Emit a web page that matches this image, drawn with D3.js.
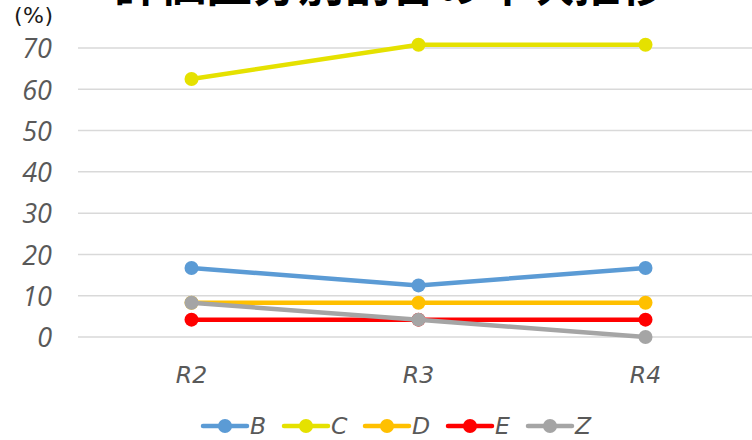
<!DOCTYPE html>
<html>
<head>
<meta charset="utf-8">
<script src="https://cdn.jsdelivr.net/npm/d3@7"></script>
<style>
  html, body { margin: 0; padding: 0; background: #fff; }
  svg { display: block; }
</style>
</head>
<body>
<svg id="chart" width="752" height="440"></svg>
<script>
// Chart data
const categories = ["R2", "R3", "R4"];
const seriesNames = ["B", "C", "D", "E", "Z"];
const valuesB = [16.7, 12.5, 16.7];
const valuesC = [62.5, 70.8, 70.8];
const valuesD = [8.3, 8.3, 8.3];
const valuesE = [4.2, 4.2, 4.2];
const valuesZ = [8.3, 4.2, 0];
const yTicks = [0, 10, 20, 30, 40, 50, 60, 70];
const titleText = "評価区分別割合の年次推移";
const unitText = "(%)";

const colors = { B: "#5B9BD5", C: "#E5E100", D: "#FFC000", E: "#FF0000", Z: "#A5A5A5" };
const series = [
  { name: "B", values: valuesB },
  { name: "C", values: valuesC },
  { name: "D", values: valuesD },
  { name: "E", values: valuesE },
  { name: "Z", values: valuesZ }
];

const svg = d3.select("#chart");
const plot = { left: 78, right: 759, top: 48, bottom: 337 };

const x = d3.scaleBand().domain(categories).range([plot.left, plot.right]);
const y = d3.scaleLinear().domain([0, 70]).range([plot.bottom, plot.top]);

const numFont = "'Open Sans', sans-serif";
const labelFont = "'DejaVu Sans', Verdana, sans-serif";
const gray = "#595959";

// Title (large heading running off the top edge)
svg.append("text")
  .attr("x", 390).attr("y", 1)
  .attr("text-anchor", "middle")
  .attr("font-family", "'Noto Sans CJK JP', sans-serif")
  .attr("font-weight", "bold")
  .attr("font-size", 46)
  .attr("fill", "#000")
  .text(titleText);

// Unit label
svg.append("text")
  .attr("x", 14).attr("y", 23)
  .attr("font-family", labelFont)
  .attr("font-size", 22)
  .attr("letter-spacing", 0.5)
  .attr("fill", "#1a1a1a")
  .text(unitText);

// Horizontal gridlines
svg.append("g")
  .selectAll("line")
  .data(yTicks)
  .join("line")
  .attr("x1", plot.left).attr("x2", 752)
  .attr("y1", d => y(d)).attr("y2", d => y(d))
  .attr("stroke", "#D9D9D9")
  .attr("stroke-width", 1.5);

// Y axis labels
const yAxis = d3.axisLeft(y).tickValues(yTicks).tickSize(0).tickPadding(0);
const gy = svg.append("g").attr("transform", `translate(52,0)`).call(yAxis);
gy.select(".domain").remove();
gy.selectAll("text")
  .attr("font-family", numFont)
  .attr("font-style", "italic")
  .attr("font-size", 27)
  .attr("fill", gray)
  .attr("dy", "0.36em");

// X axis labels
const xAxis = d3.axisBottom(x).tickSize(0).tickPadding(0);
const gx = svg.append("g").attr("transform", `translate(0,${plot.bottom + 29})`).call(xAxis);
gx.select(".domain").remove();
gx.selectAll("text")
  .attr("font-family", labelFont)
  .attr("font-style", "italic")
  .attr("font-size", 23.5)
  .attr("fill", gray)
  .attr("dy", "0.71em");

// Lines and markers
const cx = c => x(c) + x.bandwidth() / 2;
const line = d3.line().x((d, i) => cx(categories[i])).y(d => y(d));

series.forEach(s => {
  const g = svg.append("g");
  g.append("path")
    .attr("d", line(s.values))
    .attr("fill", "none")
    .attr("stroke", colors[s.name])
    .attr("stroke-width", 4.5)
    .attr("stroke-linejoin", "round")
    .attr("stroke-linecap", "round");
  g.selectAll("circle")
    .data(s.values)
    .join("circle")
    .attr("cx", (d, i) => cx(categories[i]))
    .attr("cy", d => y(d))
    .attr("r", 7)
    .attr("fill", colors[s.name]);
});

// Legend
const legendX = [203, 284, 365, 448, 528];
const legendY = 426;
const lg = svg.append("g");
seriesNames.forEach((name, i) => {
  const g = lg.append("g").attr("transform", `translate(${legendX[i]},${legendY})`);
  g.append("line")
    .attr("x1", 0).attr("x2", 44)
    .attr("y1", 0).attr("y2", 0)
    .attr("stroke", colors[name])
    .attr("stroke-width", 4.5)
    .attr("stroke-linecap", "round");
  g.append("circle").attr("cx", 22).attr("cy", 0).attr("r", 7).attr("fill", colors[name]);
  g.append("text")
    .attr("x", 47).attr("y", 0)
    .attr("dy", "0.36em")
    .attr("font-family", labelFont)
    .attr("font-style", "italic")
    .attr("font-size", 23.5)
    .attr("fill", gray)
    .text(name);
});
</script>
</body>
</html>
